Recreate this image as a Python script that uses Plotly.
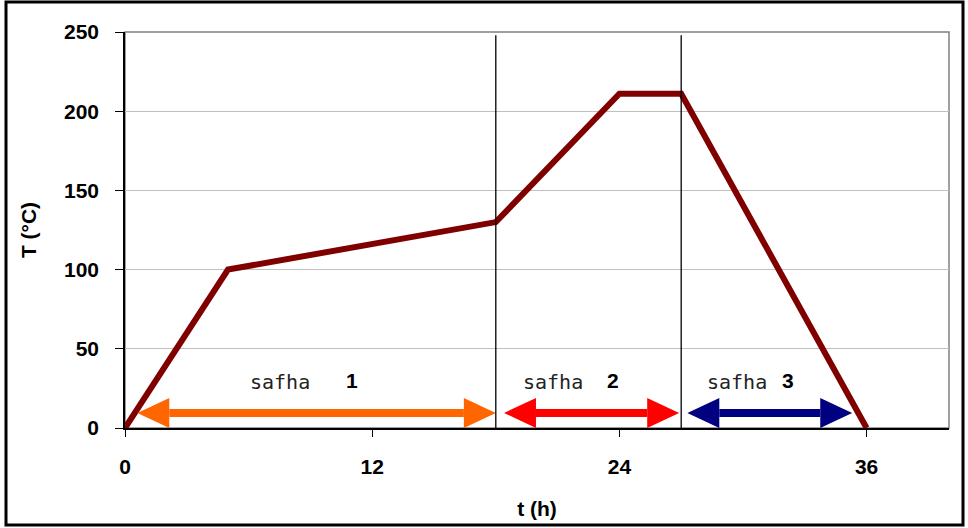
import plotly.graph_objects as go

# Data
t_hours = [0, 5, 18, 24, 27, 36]
temp_c = [0, 100, 130, 211, 211, 0]
phase_bounds = [18, 27]            # vertical separators
arrow_starts = [0.6, 18.4, 27.3]
arrow_ends = [18.0, 26.9, 35.3]
arrow_colors = ["#FF6600", "#FF0000", "#000080"]
phase_numbers = ["1", "2", "3"]
label_word_x = [7.5, 20.8, 29.7]
label_num_x = [11.0, 23.7, 32.2]
x_ticks = [0, 12, 24, 36]
y_ticks = [0, 50, 100, 150, 200, 250]

ARROW_Y = 9.5
HEAD_LEN = 1.55
HEAD_HALF = 9.5
LABEL_Y = 29

fig = go.Figure()

# phase separators
for b in phase_bounds:
    fig.add_shape(type="line", x0=b, x1=b, y0=0, y1=248, xref="x", yref="y",
                  line=dict(color="black", width=1.3), layer="above")

# main curve
fig.add_trace(go.Scatter(x=t_hours, y=temp_c, mode="lines",
                         line=dict(color="#800000", width=6), showlegend=False,
                         hoverinfo="skip"))

# arrows
for s, e, c in zip(arrow_starts, arrow_ends, arrow_colors):
    fig.add_trace(go.Scatter(x=[s + HEAD_LEN, e - HEAD_LEN], y=[ARROW_Y, ARROW_Y], mode="lines",
                             line=dict(color=c, width=8), showlegend=False, hoverinfo="skip"))
    fig.add_trace(go.Scatter(
        x=[s, s + HEAD_LEN, s + HEAD_LEN, s, None, e, e - HEAD_LEN, e - HEAD_LEN, e],
        y=[ARROW_Y, ARROW_Y + HEAD_HALF, ARROW_Y - HEAD_HALF, ARROW_Y, None,
           ARROW_Y, ARROW_Y + HEAD_HALF, ARROW_Y - HEAD_HALF, ARROW_Y],
        mode="lines", fill="toself", fillcolor=c, line=dict(color=c, width=0),
        showlegend=False, hoverinfo="skip"))

# labels
for wx, nx, n in zip(label_word_x, label_num_x, phase_numbers):
    fig.add_annotation(x=wx, y=LABEL_Y, text="safha", showarrow=False,
                       font=dict(family="DejaVu Sans Mono", size=20, color="#222"))
    fig.add_annotation(x=nx, y=LABEL_Y + 1, text="<b>%s</b>" % n, showarrow=False,
                       font=dict(family="Liberation Sans", size=21, color="black"))

# plot area border (top/right gray)
fig.add_shape(type="rect", xref="paper", yref="paper", x0=0, x1=1, y0=0, y1=1,
              line=dict(color="#808080", width=1.5), layer="below")

# outer frame
W, H = 968, 528
L, R, T, B = 125, 19, 32, 100
pw, ph = W - L - R, H - T - B
fig.add_shape(type="rect", xref="paper", yref="paper",
              x0=(6 - L) / pw, x1=(963 - L) / pw,
              y0=(H - B - 525) / ph, y1=(H - B - 2) / ph,
              line=dict(color="black", width=3))

font_axis = dict(family="Liberation Sans", size=21, color="black")

fig.update_xaxes(range=[0, 40], tickvals=x_ticks, ticktext=["<b>%d</b>" % v for v in x_ticks],
                 ticks="outside", ticklen=7, tickcolor="black", tickwidth=1.3,
                 showline=True, linecolor="black", linewidth=1.5,
                 showgrid=False, zeroline=False, tickfont=font_axis,
                 ticklabelstandoff=12,
                 title=dict(text="<b>t (h)</b>", font=font_axis, standoff=24))
fig.update_yaxes(range=[0, 250], tickvals=y_ticks, ticktext=["<b>%d</b>" % v for v in y_ticks],
                 ticks="outside", ticklen=8, tickcolor="black", tickwidth=1.3,
                 showline=True, linecolor="black", linewidth=1.5,
                 showgrid=True, gridcolor="#C0C0C0", gridwidth=1.3, zeroline=False,
                 tickfont=font_axis, ticklabelstandoff=12,
                 title=dict(text="<b>T (°C)</b>", font=font_axis, standoff=22))

fig.update_layout(width=W, height=H, margin=dict(l=L, r=R, t=T, b=B),
                  plot_bgcolor="white", paper_bgcolor="white", showlegend=False)

fig.write_html("out.html", config={"displayModeBar": False},
               post_script="document.body.style.margin='0';document.body.style.overflow='hidden';")
